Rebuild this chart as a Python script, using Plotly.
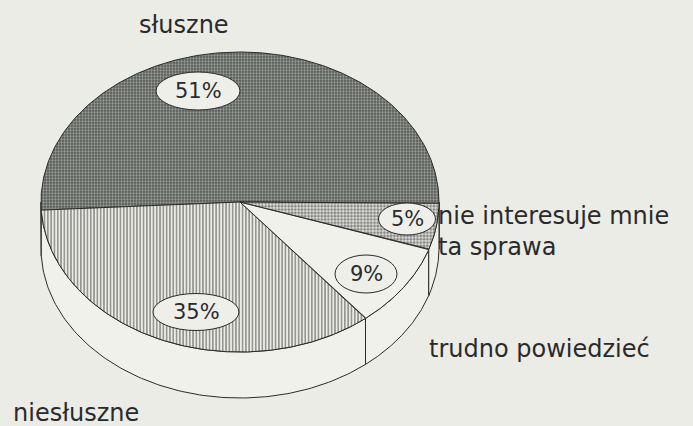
import numpy as np
import plotly.graph_objects as go

# ---- data ----
categories = ["słuszne", "niesłuszne", "trudno powiedzieć", "nie interesuje mnie<br>ta sprawa"]
values = [51, 35, 9, 5]

# ---- layout / style constants ----
W, H = 693, 426
CX, CY, RX, RY, DEPTH = 240, 202, 199, 150, 46
START_DEG = -0.5           # first slice starts here (math convention, counter-clockwise)
PAPER = "#ecece6"
INK = "#2a2a2a"
FONT = "DejaVu Sans"

patterns = [
    dict(shape=".", fgcolor="#dcddd8", bgcolor="#575b57", size=3, solidity=0.45),
    dict(shape="|", fgcolor="#1e1e1e", bgcolor="#ecece7", size=3.3, solidity=0.42),
    None,
    dict(shape=".", fgcolor="#252525", bgcolor="#e6e6e1", size=3.3, solidity=0.6),
]
plain_fill = "#f1f1ec"

# bubble (label ellipse) centre x, y, width, height
bubble_pos = [(198, 91, 84, 38), (196, 312, 86, 37), (366, 274, 62, 38), (407, 219, 57, 32)]
# category label anchor x, y (middle of text block), xanchor
label_pos = [(184, 25, "center"), (11, 413, "left"), (427, 349, "left"), (436, 231, "left")]


def top_xy(a_deg):
    a = np.radians(a_deg)
    return CX + RX * np.cos(a), CY - RY * np.sin(a)


fig = go.Figure()

total = float(sum(values))
bounds = []
acc = START_DEG
for v in values:
    span = v / total * 360.0
    bounds.append((acc, acc + span))
    acc += span

# side wall (front half only), per slice
for (a0, a1) in bounds:
    for k in (-1, 0, 1):
        lo, hi = 180 + 360 * k, 360 + 360 * k
        b0, b1 = max(a0, lo), min(a1, hi)
        if b1 - b0 <= 0.05:
            continue
        t = np.linspace(b0, b1, 120)
        xt, yt = top_xy(t)
        xs = np.concatenate([xt, xt[::-1], xt[:1]])
        ys = np.concatenate([yt, (yt + DEPTH)[::-1], yt[:1]])
        fig.add_trace(go.Scatter(x=xs, y=ys, mode="lines", fill="toself",
                                 fillcolor=plain_fill,
                                 line=dict(color=INK, width=1),
                                 hoverinfo="skip", showlegend=False))

# top face slices
for i, (a0, a1) in enumerate(bounds):
    t = np.linspace(a0, a1, 240)
    xt, yt = top_xy(t)
    xs = np.concatenate([[CX], xt, [CX]])
    ys = np.concatenate([[CY], yt, [CY]])
    kw = dict(fillcolor=plain_fill)
    if patterns[i] is not None:
        kw = dict(fillcolor=patterns[i]["bgcolor"], fillpattern=patterns[i])
    fig.add_trace(go.Scatter(x=xs, y=ys, mode="lines", fill="toself",
                             line=dict(color=INK, width=1),
                             hoverinfo="skip", showlegend=False,
                             name=categories[i].replace("<br>", " "), **kw))

# percentage bubbles
for i, v in enumerate(values):
    bx, by, bw, bh = bubble_pos[i]
    fig.add_shape(type="circle", xref="x", yref="y",
                  x0=bx - bw / 2, x1=bx + bw / 2, y0=by - bh / 2, y1=by + bh / 2,
                  fillcolor="#efefea", line=dict(color=INK, width=1), layer="above")
    fig.add_annotation(x=bx, y=by, xref="x", yref="y", text=f"{v}%",
                       showarrow=False, xanchor="center", yanchor="middle",
                       font=dict(family=FONT, size=21, color=INK))

# category labels
for i, cat in enumerate(categories):
    lx, ly, anc = label_pos[i]
    fig.add_annotation(x=lx, y=ly, xref="x", yref="y",
                       text=cat, showarrow=False, xanchor=anc, yanchor="middle",
                       align="left" if anc == "left" else "center",
                       font=dict(family=FONT, size=24, color=INK))

fig.update_xaxes(range=[0, W], visible=False, fixedrange=True)
fig.update_yaxes(range=[H, 0], visible=False, fixedrange=True)
fig.update_layout(width=W, height=H, margin=dict(l=0, r=0, t=0, b=0),
                  paper_bgcolor=PAPER, plot_bgcolor=PAPER, showlegend=False)

fig.write_html("out.html", config={"displayModeBar": False},
               post_script="document.body.style.margin='0';document.body.style.overflow='hidden';")
